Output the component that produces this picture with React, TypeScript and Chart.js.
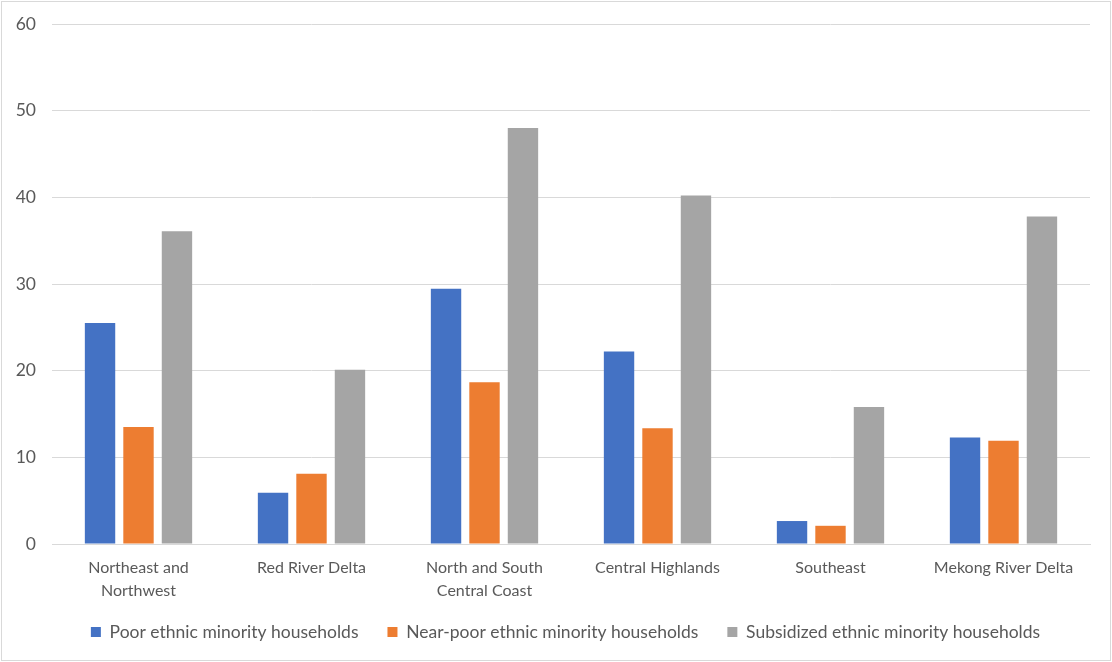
import React, { useEffect, useRef } from "react";
import { Chart, registerables } from "chart.js";

Chart.register(...registerables);

const categories: (string | string[])[] = [
  ["Northeast and", "Northwest"],
  "Red River Delta",
  ["North and South", "Central Coast"],
  "Central Highlands",
  "Southeast",
  "Mekong River Delta",
];
const poorValues = [25.5, 5.9, 29.45, 22.2, 2.65, 12.3];
const nearPoorValues = [13.5, 8.1, 18.65, 13.35, 2.1, 11.9];
const subsidizedValues = [36.1, 20.1, 48.0, 40.2, 15.8, 37.8];
const seriesNames = [
  "Poor ethnic minority households",
  "Near-poor ethnic minority households",
  "Subsidized ethnic minority households",
];

const FONT = "Lato, 'Open Sans', sans-serif";
const TEXT = "#595959";

const legendPlace = {
  id: "legendPlace",
  afterLayout(chart: any) {
    const lg = chart.legend;
    if (!lg) return;
    const dy = 592.25 - lg.top;
    lg.top += dy;
    lg.bottom += dy;
    const dx = 563.5 - (lg.left + lg.right) / 2;
    lg.left += dx;
    lg.right += dx;
  },
};

export default function App() {
  const ref = useRef<HTMLCanvasElement | null>(null);
  useEffect(() => {
    document.body.style.margin = "0";
    if (!ref.current) return;
    const chart = new Chart(ref.current, {
      type: "bar",
      data: {
        labels: categories,
        datasets: [
          { label: seriesNames[0], data: poorValues, backgroundColor: "#4472C4" },
          { label: seriesNames[1], data: nearPoorValues, backgroundColor: "#ED7D31" },
          { label: seriesNames[2], data: subsidizedValues, backgroundColor: "#A5A5A5" },
        ],
      },
      plugins: [legendPlace],
      options: {
        animation: false,
        responsive: false,
        devicePixelRatio: 1,
        datasets: { bar: { categoryPercentage: 0.667, barPercentage: 0.79 } },
        layout: { padding: { left: 0, right: 20, top: 22, bottom: 0 } },
        scales: {
          x: {
            grid: { display: false, drawTicks: false },
            border: { display: true, color: "#d9d9d9", width: 1 },
            ticks: {
              color: TEXT,
              font: { family: FONT, size: 16, lineHeight: "23px" },
              padding: 12.5,
              maxRotation: 0,
              autoSkip: false,
            },
            afterFit: (scale: any) => {
              scale.height = 59.5;
            },
          },
          y: {
            min: 0,
            max: 60,
            ticks: {
              stepSize: 10,
              color: TEXT,
              font: { family: FONT, size: 17.5 },
              padding: 16,
            },
            grid: { color: "#d9d9d9", lineWidth: 1, drawTicks: false },
            border: { display: false },
            afterFit: (scale: any) => {
              scale.width = 50;
              scale.paddingTop = 0;
              scale.paddingBottom = 0;
            },
          },
        },
        plugins: {
          legend: {
            position: "bottom",
            labels: {
              color: TEXT,
              font: { family: FONT, size: 17.5 },
              boxWidth: 10,
              boxHeight: 10,
              padding: 29,
            },
          },
          tooltip: { enabled: false },
          title: { display: false },
        },
      },
    });
    return () => chart.destroy();
  }, []);
  return (
    <div
      style={{
        position: "absolute",
        left: 1,
        top: 1,
        width: 1110,
        height: 660,
        boxSizing: "border-box",
        border: "1px solid #d9d9d9",
        background: "#fff",
      }}
    >
      <canvas ref={ref} width={1108} height={658} style={{ display: "block" }} />
    </div>
  );
}
